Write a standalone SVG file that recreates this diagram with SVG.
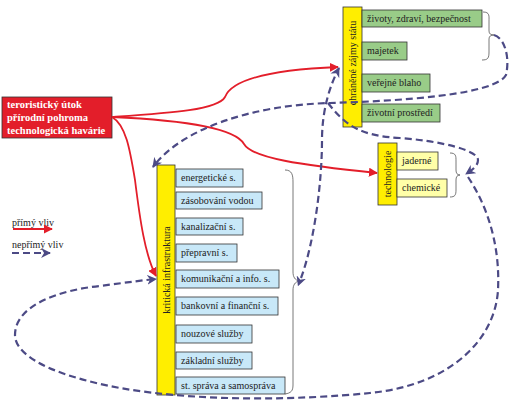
<svg xmlns="http://www.w3.org/2000/svg" width="517" height="410" viewBox="0 0 517 410">
<defs>
<marker id="ar" viewBox="0 0 10 10" refX="9" refY="5" markerWidth="5" markerHeight="5" orient="auto" markerUnits="strokeWidth"><path d="M0,0 L10,5 L0,10 z" fill="#e31e2a"/></marker>
<marker id="ab" viewBox="0 0 10 10" refX="9" refY="5" markerWidth="4.5" markerHeight="4.5" orient="auto" markerUnits="strokeWidth"><path d="M0,0 L10,5 L0,10 L3,5 z" fill="#4c4a85"/></marker>
<marker id="abs" viewBox="0 0 10 10" refX="1" refY="5" markerWidth="4.5" markerHeight="4.5" orient="auto-start-reverse" markerUnits="strokeWidth"><path d="M0,0 L10,5 L0,10 L3,5 z" fill="#4c4a85"/></marker>
</defs>
<style>
text{font-family:"Liberation Serif","Times New Roman",serif;font-size:10px;fill:#222}
.bar{fill:#ffee00;stroke:#333;stroke-width:0.8}
.g{fill:#99cc88;stroke:#333;stroke-width:0.8}
.b{fill:#c8e8f8;stroke:#333;stroke-width:0.8}
.y{fill:#ffffa8;stroke:#333;stroke-width:0.8}
.br{fill:none;stroke:#555;stroke-width:0.8}
.red{fill:none;stroke:#e31e2a;stroke-width:1.8}
.dash{fill:none;stroke:#4c4a85;stroke-width:2.2;stroke-dasharray:7,4}
.wt{fill:#fff;font-weight:bold;font-size:10.5px}
</style>
<rect width="517" height="410" fill="#fff"/>

<g id="source">
<rect x="2" y="97" width="110" height="41" fill="#e31e2a" stroke="#333" stroke-width="0.8"/>
<text class="wt" x="7" y="108">teroristický útok</text>
<text class="wt" x="7" y="121">přírodní pohroma</text>
<text class="wt" x="7" y="134">technologická havárie</text>
</g>

<g id="chranene">
<rect class="bar" x="343" y="7" width="19" height="120"/>
<text transform="translate(355.5,63) rotate(-90)" text-anchor="middle">chráněné zájmy státu</text>
<rect class="g" x="362" y="10" width="120" height="17"/><text x="367" y="22">životy, zdraví, bezpečnost</text>
<rect class="g" x="362" y="42" width="45" height="18"/><text x="367" y="54">majetek</text>
<rect class="g" x="362" y="74" width="68" height="18"/><text x="367" y="86">veřejné blaho</text>
<rect class="g" x="362" y="104" width="78" height="18"/><text x="367" y="116">životní prostředí</text>
<path class="br" d="M483,12 C490,12 489,16 489,22 L489,31 C489,34 491,35 494,35 C491,35 489,36 489,39 L489,52 C489,58 488,60 482,60"/>
</g>

<g id="technologie">
<rect class="bar" x="378" y="143" width="19" height="62"/>
<text transform="translate(390.5,174) rotate(-90)" text-anchor="middle">technologie</text>
<rect class="y" x="397" y="152" width="41" height="18"/><text x="402" y="164">jaderné</text>
<rect class="y" x="397" y="179" width="50" height="18"/><text x="402" y="191">chemické</text>
<path class="br" d="M450,153 C456,153 456,156 456,161 L456,170 C456,173 457,175 460,175 C457,175 456,177 456,180 L456,190 C456,195 455,197 450,197"/>
</g>

<g id="infrastruktura">
<rect class="bar" x="157" y="165" width="18" height="230"/>
<text transform="translate(169.5,270) rotate(-90)" text-anchor="middle">kritická infrastruktura</text>
<rect class="b" x="176" y="169" width="67" height="18"/><text x="181" y="181">energetické s.</text>
<rect class="b" x="176" y="192" width="86" height="17"/><text x="181" y="204">zásobování vodou</text>
<rect class="b" x="176" y="218" width="67" height="17"/><text x="181" y="230">kanalizační s.</text>
<rect class="b" x="176" y="244" width="61" height="18"/><text x="181" y="256">přepravní s.</text>
<rect class="b" x="176" y="270" width="103" height="18"/><text x="181" y="282">komunikační a info. s.</text>
<rect class="b" x="176" y="297" width="102" height="18"/><text x="181" y="309">bankovní a finanční s.</text>
<rect class="b" x="176" y="325" width="76" height="18"/><text x="181" y="337">nouzové služby</text>
<rect class="b" x="176" y="352" width="76" height="17"/><text x="181" y="364">základní služby</text>
<rect class="b" x="176" y="377" width="109" height="17"/><text x="181" y="389">st. správa a samospráva</text>
<path class="br" d="M285,170 C292,170 293,175 293,182 L293,272 C293,277 295,280 299,281 C295,282 293,285 293,290 L293,385 C293,391 291,393 285,394"/>
</g>

<g id="legend">
<text x="12" y="226">přímý vliv</text>
<path class="red" d="M13,229 L52,229" marker-end="url(#ar)"/>
<text x="12" y="248">nepřímý vliv</text>
<path class="dash" d="M12,253 L50,253" marker-end="url(#ab)"/>
</g>

<g id="connectors">
<path class="red" d="M112,117 C170,113 218,110 225,97 C231,82 262,70 338,67" marker-end="url(#ar)"/>
<path class="red" d="M112,117 C180,120 235,128 244,144 C252,158 300,165 377,173" marker-end="url(#ar)"/>
<path class="red" d="M112,117 C126,125 130,150 135,180 C140,220 145,255 156,276" marker-end="url(#ar)"/>
<path class="dash" d="M494,35 C505,38 510,58 506,75 C495,95 400,101 330,103 C250,105 180,130 153,167" marker-end="url(#ab)"/>
<path class="dash" d="M328,103 C345,125 360,136 400,138 C440,141 478,150 478,160 C478,166 472,170 466,174" marker-end="url(#ab)"/>
<path class="dash" d="M468,177 C490,210 500,250 498,290 C495,340 450,385 370,393 C300,400 200,402 120,388 C50,375 15,355 15,335 C15,305 60,290 100,286 C130,282 145,280 156,279" marker-end="url(#ab)"/>
<path class="dash" d="M301,278 C315,240 322,180 322,140 C322,110 330,85 339,68" marker-start="url(#abs)" marker-end="url(#ab)"/>
</g>
</svg>
